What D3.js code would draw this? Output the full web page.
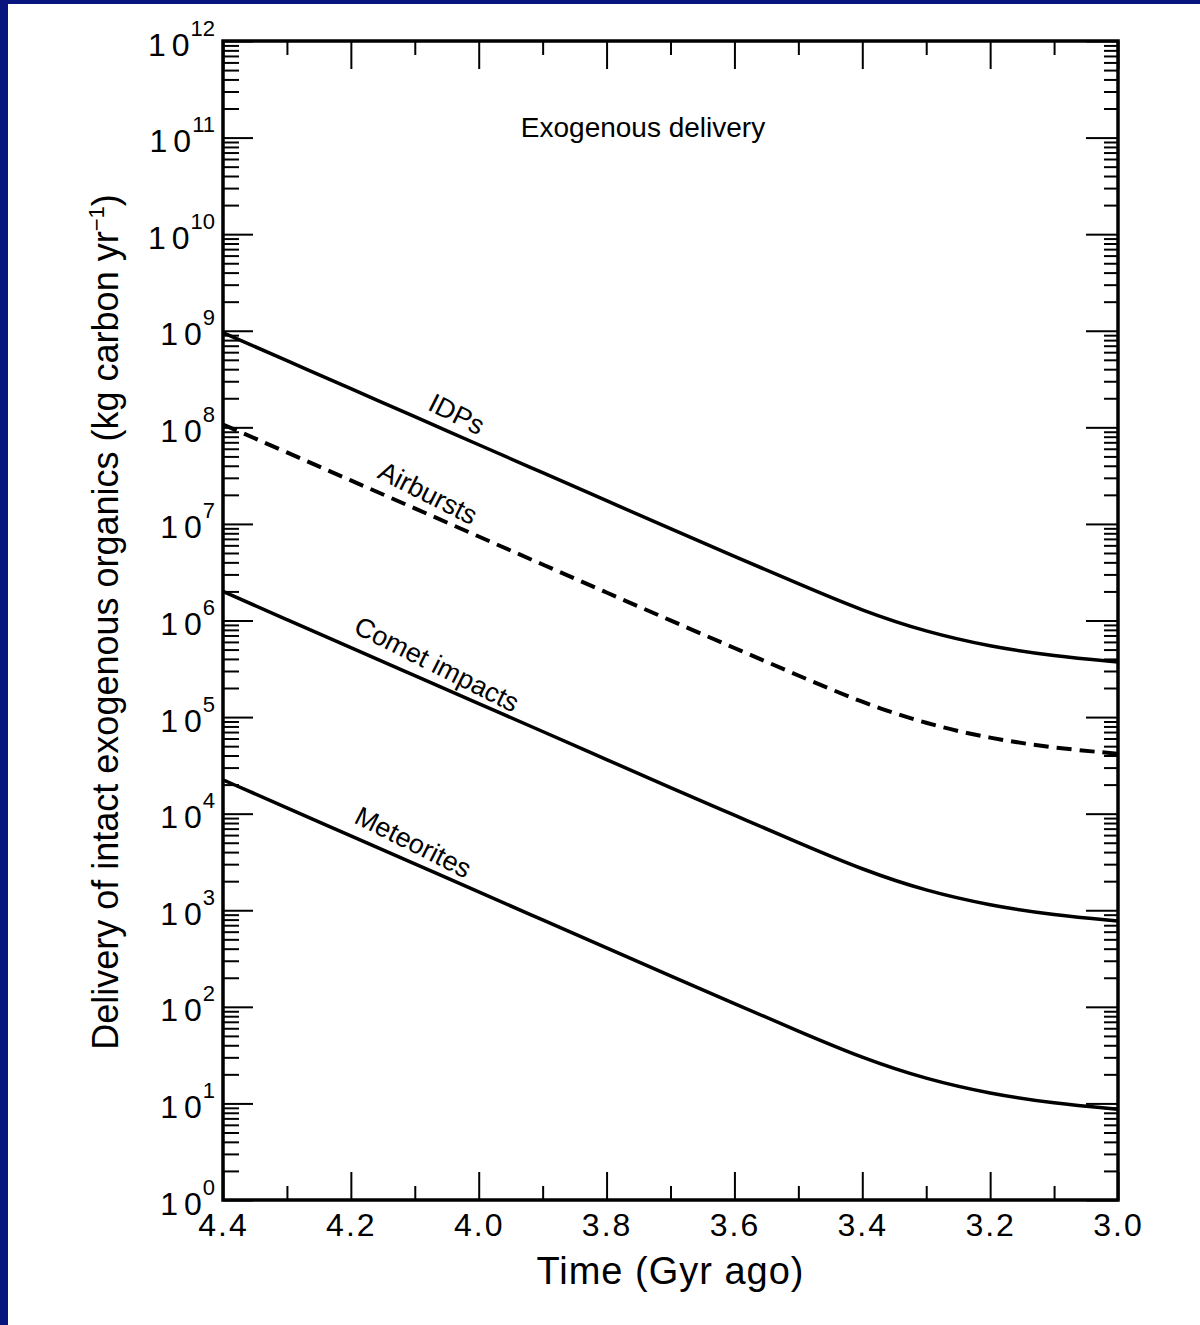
<!DOCTYPE html>
<html lang="en">
  <head>
    <meta charset="utf-8">
    <title>Exogenous delivery</title>
    <style type="text/css">
      body{
        margin: 0;
        background: #fff;
      }
      svg{
        display: block;
        font-family: "Liberation Sans", Arial, sans-serif;
      }
      .axis line{
        stroke: #000;
        stroke-width: 2px;
      }
      .axis path{
        display: none;
      }
      .axis text{
        fill: #000;
      }
    </style>
    <script src="https://cdn.jsdelivr.net/npm/d3@7"></script>
  </head>
  <body>
    <div id="chart"></div>
    <script type="text/javascript">
      //time (Gyr ago) of each sample
      var times = [4.4, 4.3, 4.2, 4.1, 4.0, 3.9, 3.8, 3.7, 3.6, 3.5, 3.4, 3.3, 3.2, 3.1, 3.0];

      //delivery of intact organics, kg carbon per yr
      var idps = [9.55e8, 4.9e8, 2.51e8, 1.29e8, 6.6e7, 3.39e7, 1.74e7, 8.9e6, 4.62e6, 2.4e6, 1.26e6, 7.6e5, 5.37e5, 4.27e5, 3.72e5];
      var airbursts = [1.07e8, 5.5e7, 2.82e7, 1.45e7, 7.4e6, 3.8e6, 1.95e6, 1.0e6, 5.19e5, 2.69e5, 1.41e5, 8.5e4, 6.0e4, 4.79e4, 4.17e4];
      var comets = [2.0e6, 1.02e6, 5.25e5, 2.69e5, 1.38e5, 7.1e4, 3.63e4, 1.86e4, 9.66e3, 5.0e3, 2.63e3, 1.58e3, 1.12e3, 891, 776];
      var meteorites = [2.24e4, 1.15e4, 5.89e3, 3.02e3, 1.55e3, 794, 407, 209, 108, 56, 29.5, 17.8, 12.6, 10.0, 8.7];

      var seriesNames = ["IDPs", "Airbursts", "Comet impacts", "Meteorites"];
      var seriesDashed = [false, true, false, false];
      //time at which each curve gets its name written on it
      var labelTimes = [4.048, 4.093, 4.079, 4.116];

      //tick values
      var xMajor = [4.4, 4.2, 4.0, 3.8, 3.6, 3.4, 3.2, 3.0];
      var xMinor = [4.3, 4.1, 3.9, 3.7, 3.5, 3.3, 3.1];
      var exponents = [0, 1, 2, 3, 4, 5, 6, 7, 8, 9, 10, 11, 12];

      var width = 1200;
      var height = 1325;
      var plot = {left: 223, top: 41, right: 1118, bottom: 1200};

      var svg = d3.select("#chart")
        .append("svg")
        .attr("width", width)
        .attr("height", height);

      //navy edge of the slide
      svg.append("rect").attr("x", 0).attr("y", 0).attr("width", 8).attr("height", height).attr("fill", "#08157f");
      svg.append("rect").attr("x", 0).attr("y", 0).attr("width", width).attr("height", 4).attr("fill", "#08157f");

      var x = d3.scaleLinear()
        .domain([4.4, 3.0])
        .range([plot.left, plot.right]);

      var y = d3.scaleLog()
        .domain([1, 1e12])
        .range([plot.bottom, plot.top]);

      var decades = exponents.map(e => Math.pow(10, e));
      var yMinor = [];
      exponents.slice(0, -1).forEach(e => {
        d3.range(2, 10).forEach(m => yMinor.push(m * Math.pow(10, e)));
      });

      //bottom axis
      svg.append("g")
        .attr("class", "axis")
        .attr("transform", `translate(0,${plot.bottom})`)
        .call(d3.axisBottom(x).tickValues(xMajor).tickSizeInner(-28).tickSizeOuter(0)
          .tickPadding(13).tickFormat(d3.format(".1f")))
        .selectAll("text")
        .style("font-size", "32px")
        .style("letter-spacing", "2px");

      svg.append("g")
        .attr("class", "axis")
        .attr("transform", `translate(0,${plot.bottom})`)
        .call(d3.axisBottom(x).tickValues(xMinor).tickSizeInner(-14).tickSizeOuter(0).tickFormat(""));

      //top axis
      svg.append("g")
        .attr("class", "axis")
        .attr("transform", `translate(0,${plot.top})`)
        .call(d3.axisTop(x).tickValues(xMajor).tickSizeInner(-28).tickSizeOuter(0).tickFormat(""));

      svg.append("g")
        .attr("class", "axis")
        .attr("transform", `translate(0,${plot.top})`)
        .call(d3.axisTop(x).tickValues(xMinor).tickSizeInner(-14).tickSizeOuter(0).tickFormat(""));

      //left axis with 10^n labels
      svg.append("g")
        .attr("class", "axis")
        .attr("transform", `translate(${plot.left},0)`)
        .call(d3.axisLeft(y).tickValues(decades).tickSizeInner(-30).tickSizeOuter(0).tickPadding(8))
        .selectAll("text")
        .text(null)
        .attr("dy", "14px")
        .style("font-size", "32px")
        .each(function(d, i) {
          var t = d3.select(this);
          t.append("tspan").text("1");
          t.append("tspan").attr("dx", 6).text("0");
          t.append("tspan")
            .attr("dy", -20)
            .attr("dx", 1)
            .style("font-size", "22px")
            .text(exponents[i]);
        });

      svg.append("g")
        .attr("class", "axis")
        .attr("transform", `translate(${plot.left},0)`)
        .call(d3.axisLeft(y).tickValues(yMinor).tickSizeInner(-16).tickSizeOuter(0).tickFormat(""));

      //right axis
      svg.append("g")
        .attr("class", "axis")
        .attr("transform", `translate(${plot.right},0)`)
        .call(d3.axisRight(y).tickValues(decades).tickSizeInner(-32).tickSizeOuter(0).tickFormat(""));

      svg.append("g")
        .attr("class", "axis")
        .attr("transform", `translate(${plot.right},0)`)
        .call(d3.axisRight(y).tickValues(yMinor).tickSizeInner(-14).tickSizeOuter(0).tickFormat(""));

      //frame
      svg.append("rect")
        .attr("x", plot.left)
        .attr("y", plot.top)
        .attr("width", plot.right - plot.left)
        .attr("height", plot.bottom - plot.top)
        .attr("fill", "none")
        .attr("stroke", "#000")
        .attr("stroke-width", 3.5);

      //curves
      var series = [idps, airbursts, comets, meteorites].map((vals, i) => ({
        name: seriesNames[i],
        dashed: seriesDashed[i],
        labelTime: labelTimes[i],
        points: vals.map((v, j) => ({t: times[j], v: v}))
      }));

      var line = d3.line()
        .x(d => x(d.t))
        .y(d => y(d.v))
        .curve(d3.curveBasis);

      svg.selectAll(".curve")
        .data(series)
        .enter()
        .append("path")
        .attr("class", "curve")
        .attr("d", d => line(d.points))
        .attr("fill", "none")
        .attr("stroke", "#000")
        .attr("stroke-width", d => d.dashed ? 4 : 3.5)
        .attr("stroke-dasharray", d => d.dashed ? "15,8" : null);

      //curve names, laid along the curve
      svg.selectAll(".curve-label")
        .data(series)
        .enter()
        .append("text")
        .attr("class", "curve-label")
        .attr("text-anchor", "middle")
        .style("font-size", "27px")
        .attr("transform", function(d) {
          var i = d3.bisector(p => -p.t).left(d.points, -d.labelTime);
          var a = d.points[i - 1], b = d.points[i];
          var f = (a.t - d.labelTime) / (a.t - b.t);
          var lv = Math.log10(a.v) + f * (Math.log10(b.v) - Math.log10(a.v));
          var px = x(d.labelTime), py = y(Math.pow(10, lv));
          var angle = Math.atan2(y(b.v) - y(a.v), x(b.t) - x(a.t)) * 180 / Math.PI + 3;
          return `translate(${px},${py}) rotate(${angle}) translate(0,-10)`;
        })
        .text(d => d.name);

      //titles
      svg.append("text")
        .attr("x", 643)
        .attr("y", 137)
        .attr("text-anchor", "middle")
        .style("font-size", "28px")
        .text("Exogenous delivery");

      svg.append("text")
        .attr("x", (plot.left + plot.right) / 2)
        .attr("y", 1284)
        .attr("text-anchor", "middle")
        .style("font-size", "38px")
        .style("letter-spacing", "1px")
        .text("Time (Gyr ago)");

      var yTitle = svg.append("text")
        .attr("transform", "translate(118,622) rotate(-90)")
        .attr("text-anchor", "middle")
        .style("font-size", "36px");
      yTitle.append("tspan").text("Delivery of intact exogenous organics (kg carbon yr");
      yTitle.append("tspan").attr("dy", -14).style("font-size", "22px").text("\u22121");
      yTitle.append("tspan").attr("dy", 14).text(")");
    </script>
  </body>
</html>
